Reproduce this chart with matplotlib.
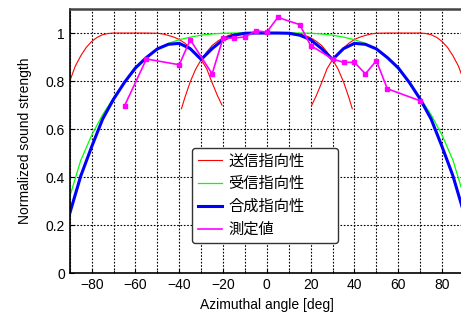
import matplotlib
matplotlib.use('Agg')
import matplotlib.pyplot as plt
from matplotlib.lines import Line2D

plt.rcParams['font.family'] = ['Liberation Sans', 'Noto Sans CJK JP', 'DejaVu Sans']

# 送信指向性 (3本のビーム)
tx_left_deg = [-90, -87.5, -85, -82.5, -80, -77.5, -75, -72.5, -70, -65, -60, -55,
               -50, -47.5, -45, -42.5, -40, -37.5, -35, -32.5, -30, -27.5, -25, -22.5, -20.5]
tx_left_val = [0.80, 0.862, 0.905, 0.940, 0.965, 0.982, 0.993, 0.998, 1.0, 1.0, 1.0, 1.0,
               0.999, 0.996, 0.990, 0.983, 0.973, 0.958, 0.938, 0.912, 0.889, 0.852, 0.793, 0.738, 0.70]
tx_mid_deg = [-39, -37.5, -35, -32.5, -30, -27.5, -25, -22.5, -20, -17.5, -15, -12.5, -10, -5, 0,
              5, 10, 12.5, 15, 17.5, 20, 22.5, 25, 27.5, 30, 32.5, 35, 37.5, 39]
tx_mid_val = [0.685, 0.73, 0.797, 0.85, 0.889, 0.921, 0.948, 0.966, 0.98, 0.99, 0.996, 0.999, 1.0, 1.0, 1.0,
              1.0, 1.0, 0.999, 0.996, 0.99, 0.98, 0.966, 0.948, 0.921, 0.889, 0.85, 0.797, 0.73, 0.685]
tx_right_deg = [20.5, 22.5, 25, 27.5, 30, 32.5, 35, 37.5, 40, 42.5, 45, 47.5, 50,
                55, 60, 65, 70, 72.5, 75, 77.5, 80, 82.5, 85, 87.5, 90]
tx_right_val = [0.70, 0.738, 0.793, 0.852, 0.889, 0.912, 0.938, 0.958, 0.973, 0.983, 0.990, 0.996, 0.999,
                1.0, 1.0, 1.0, 1.0, 0.998, 0.993, 0.982, 0.965, 0.940, 0.905, 0.862, 0.80]

# 受信指向性 / 合成指向性
angle_deg = [-90, -85, -80, -75, -70, -65, -60, -55, -50, -45, -40, -35, -30, -25, -20, -15, -10, -5, 0,
             5, 10, 15, 20, 25, 30, 35, 40, 45, 50, 55, 60, 65, 70, 75, 80, 85, 90]
rx_val = [0.32, 0.47, 0.575, 0.66, 0.73, 0.795, 0.85, 0.897, 0.932, 0.957, 0.972, 0.983, 0.991, 0.996,
          0.999, 1.0, 1.0, 1.0, 1.0,
          1.0, 1.0, 1.0, 0.999, 0.996, 0.991, 0.983, 0.972, 0.957, 0.932, 0.897, 0.85, 0.795, 0.73, 0.66,
          0.575, 0.47, 0.32]
comb_val = [0.25, 0.405, 0.527, 0.642, 0.725, 0.795, 0.855, 0.898, 0.934, 0.953, 0.957, 0.935, 0.89,
            0.935, 0.972, 0.991, 0.999, 1.0, 1.0,
            1.0, 0.999, 0.991, 0.972, 0.935, 0.89, 0.935, 0.957, 0.953, 0.934, 0.898, 0.855, 0.795,
            0.725, 0.642, 0.527, 0.405, 0.25]

# 測定値
meas_deg = [-65, -55, -40, -35, -25, -20, -15, -10, -5, 0, 5, 15, 20, 30, 35, 40, 45, 50, 55, 70]
meas_val = [0.697, 0.892, 0.868, 0.972, 0.83, 0.979, 0.979, 0.984, 1.009, 1.004, 1.065, 1.035, 0.948,
            0.892, 0.878, 0.878, 0.83, 0.885, 0.768, 0.718]

labels = ['送信指向性', '受信指向性', '合成指向性', '測定値']

fig = plt.figure(figsize=(4.61, 3.2), dpi=100)
ax = fig.add_axes([0.1514, 0.1459, 0.855, 0.826])

ax.plot(tx_left_deg, tx_left_val, color='#ff0000', lw=0.8)
ax.plot(tx_mid_deg, tx_mid_val, color='#ff0000', lw=0.8)
ax.plot(tx_right_deg, tx_right_val, color='#ff0000', lw=0.8)
ax.plot(angle_deg, rx_val, color='#00ff00', lw=0.9)
ax.plot(angle_deg, comb_val, color='#0000ff', lw=2.2)
ax.plot(meas_deg, meas_val, color='#ff00ff', lw=1.2, marker='s', ms=2.5)

ax.set_xlim(-90, 90)
ax.set_ylim(0, 1.1)
ax.set_xticks([-80, -60, -40, -20, 0, 20, 40, 60, 80])
ax.set_xticks(range(-90, 91, 10), minor=True)
ax.set_yticks([0, 0.2, 0.4, 0.6, 0.8, 1.0])
ax.set_yticklabels(['0', '0.2', '0.4', '0.6', '0.8', '1'])
ax.grid(True, which='both', axis='x', color='black', linestyle=(0, (1.5, 1.5)), lw=0.8)
ax.grid(True, which='major', axis='y', color='black', linestyle=(0, (1.5, 1.5)), lw=0.8)
ax.tick_params(which='both', direction='in', length=3, labelsize=10, top=False, right=False)
ax.tick_params(which='minor', length=2)

for s in ['left', 'bottom']:
    ax.spines[s].set_linewidth(1.2)
ax.spines['top'].set_linewidth(1.8)
ax.spines['top'].set_color('#444444')

ax.set_xlabel('Azimuthal angle [deg]', fontsize=10, labelpad=4)
ax.set_ylabel('Normalized sound strength', fontsize=10, labelpad=10)

handles = [Line2D([], [], color='#ff0000', lw=0.8),
           Line2D([], [], color='#00ff00', lw=0.9),
           Line2D([], [], color='#0000ff', lw=2.2),
           Line2D([], [], color='#ff00ff', lw=1.2)]
leg = ax.legend(handles, labels, loc='upper left', bbox_to_anchor=(0.309, 0.113, 0.372, 0.36),
                mode='expand', borderaxespad=0, fontsize=11, handlelength=1.6,
                handletextpad=0.4, labelspacing=0.56, fancybox=True, framealpha=1)
leg.get_frame().set_edgecolor('#333333')
leg.get_frame().set_linewidth(1.0)

fig.savefig('out.png', dpi=100)
